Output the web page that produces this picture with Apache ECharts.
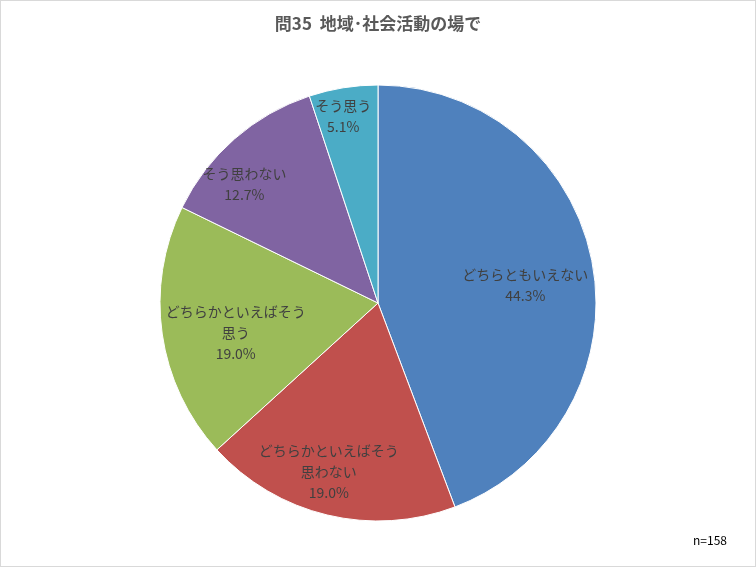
<!DOCTYPE html>
<html>
<head>
<meta charset="utf-8">
<script src="https://cdn.jsdelivr.net/npm/echarts@6/dist/echarts.min.js"></script>
<style>
  html, body { margin: 0; padding: 0; background: #fff; }
  #container { width: 754px; height: 565px; border: 1px solid #d9d9d9; }
</style>
</head>
<body>
<div id="container"></div>
<script>
var names = ['どちらともいえない', 'どちらかといえばそう\n思わない', 'どちらかといえばそう\n思う', 'そう思わない', 'そう思う'];
var values = [44.3, 19.0, 19.0, 12.7, 5.1];
var colors = ['#4F81BD', '#C0504D', '#9BBB59', '#8064A2', '#4BACC6'];
// small nudges so the labels sit where Excel put them
var labelNudge = [[-18, 12], [-10, 5], [24, 6], [-23, 8], [-8, -21]];

var chart = echarts.init(document.getElementById('container'));

var slices = names.map(function (n, i) {
  return { name: n, value: values[i], itemStyle: { color: colors[i] } };
});

var option = {
  backgroundColor: '#fff',
  animation: false,
  title: {
    text: '問35  地域･社会活動の場で',
    left: 'center',
    top: 9,
    textStyle: {
      fontFamily: 'Noto Sans CJK JP',
      fontSize: 17,
      fontWeight: 'bold',
      color: '#595959'
    }
  },
  graphic: [{
    type: 'text',
    right: 28,
    bottom: 20,
    style: {
      text: 'n=158',
      font: '12px "Noto Sans CJK JP"',
      fill: '#000'
    }
  }],
  series: [{
    type: 'pie',
    center: [377, 302],
    radius: 218,
    startAngle: 90,
    clockwise: true,
    label: { show: false },
    labelLine: { show: false },
    itemStyle: { borderColor: '#fff', borderWidth: 1 },
    emphasis: { disabled: true },
    data: slices
  }, {
    // transparent copy that only carries the labels further out
    type: 'pie',
    center: [377, 302],
    radius: [0, 330],
    startAngle: 90,
    clockwise: true,
    silent: true,
    itemStyle: { color: 'rgba(0,0,0,0)' },
    label: {
      show: true,
      position: 'inside',
      formatter: function (p) { return p.name + '\n' + p.value.toFixed(1) + '%'; },
      fontFamily: 'Noto Sans CJK JP',
      fontSize: 14,
      lineHeight: 21,
      color: '#404040',
      align: 'center'
    },
    labelLayout: function (p) {
      var d = labelNudge[p.dataIndex];
      return { dx: d[0], dy: d[1] };
    },
    labelLine: { show: false },
    emphasis: { disabled: true },
    data: values.map(function (v, i) { return { name: names[i], value: v }; })
  }]
};
chart.setOption(option);
</script>
</body>
</html>
